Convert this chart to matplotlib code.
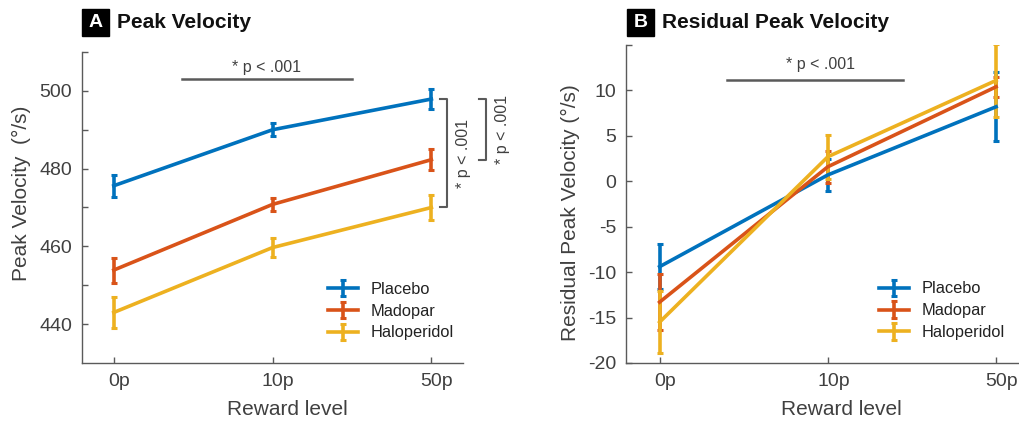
import matplotlib.pyplot as plt
from matplotlib.patches import Rectangle
from matplotlib.transforms import ScaledTranslation

plt.rcParams['font.family'] = ['Liberation Sans', 'DejaVu Sans']

# reward levels on the x axis
levels = ['0p', '10p', '50p']
drugs = ['Placebo', 'Madopar', 'Haloperidol']
colors = ['#0072BD', '#D95319', '#EDB120']

# peak velocity (deg/s), mean and s.e.m.
pv_mean = {'Placebo': [475.6, 490.0, 497.9],
           'Madopar': [453.9, 470.8, 482.3],
           'Haloperidol': [443.0, 459.7, 470.0]}
pv_err = {'Placebo': [2.8, 1.7, 2.5],
          'Madopar': [3.2, 1.7, 2.7],
          'Haloperidol': [4.0, 2.5, 3.3]}

# residual peak velocity (deg/s)
res_mean = {'Placebo': [-9.4, 0.7, 8.2],
            'Madopar': [-13.3, 1.6, 10.4],
            'Haloperidol': [-15.5, 2.7, 11.1]}
res_err = {'Placebo': [2.5, 1.8, 3.8],
           'Madopar': [3.05, 1.75, 1.1],
           'Haloperidol': [3.45, 2.4, 4.0]}

sig_text = '* p < .001'
gray = '#5a5a5a'
txt = '#404040'

fig = plt.figure(figsize=(10.19, 4.28), dpi=100)
axA = fig.add_axes([0.0805, 0.1519, 0.374, 0.7266])
axB = fig.add_axes([0.6143, 0.1519, 0.3847, 0.743])
x = list(range(len(levels)))


def draw(ax, means, errs):
    for name, c in zip(drugs, colors):
        ax.errorbar(x, means[name], yerr=errs[name], color=c, lw=2.6,
                    elinewidth=2.6, capsize=2.3, capthick=2.2, label=name)
    for s in ['top', 'right']:
        ax.spines[s].set_visible(False)
    for s in ['left', 'bottom']:
        ax.spines[s].set_color(gray)
        ax.spines[s].set_linewidth(1.0)
    ax.tick_params(direction='in', length=4, width=1, color=gray,
                   labelcolor=txt, labelsize=14, pad=7)
    ax.set_xticks(x)
    ax.set_xticklabels(levels)
    shift = ScaledTranslation(4 / 72, 0, fig.dpi_scale_trans)
    for lab in ax.get_xticklabels():
        lab.set_transform(lab.get_transform() + shift)
    ax.set_xlabel('Reward level', fontsize=15, color=txt)
    leg = ax.legend(loc='center left', frameon=False, fontsize=11.8,
                    handlelength=1.8, handletextpad=0.8, labelspacing=0.42,
                    borderpad=0, borderaxespad=0)
    for t in leg.get_texts():
        t.set_color('#222222')
    return leg


# panel A
legA = draw(axA, pv_mean, pv_err)
axA.set_xlim(-0.2, 2.2)
axA.set_ylim(430, 510)
axA.set_yticks([440, 450, 460, 470, 480, 490, 500, 510])
axA.set_yticklabels(['440', '', '460', '', '480', '', '500', ''])
axA.set_ylabel('Peak Velocity  (°/s)', fontsize=15, color=txt)
axA.yaxis.set_label_coords(-0.135, 0.545)
axA.xaxis.set_label_coords(0.538, -0.12)
legA.set_bbox_to_anchor((0.646, 0.167), transform=axA.transAxes)

axA.plot([0.43, 1.5], [503.1, 503.1], color=gray, lw=1.8, clip_on=False)
axA.text(0.96, 506.0, sig_text, ha='center', va='center', fontsize=11.5, color=txt)

# brackets at 50p: placebo vs haloperidol, placebo vs madopar
top = pv_mean['Placebo'][2]
for other, xb, xt in [('Haloperidol', 2.10, 2.2), ('Madopar', 2.345, 2.445)]:
    low = pv_mean[other][2]
    axA.plot([xb - 0.045, xb, xb, xb - 0.045], [top, top, low, low],
             color=gray, lw=1.5, clip_on=False)
    axA.text(xt, (top + low) / 2, sig_text, rotation=90, ha='center',
             va='center', fontsize=11.5, color=txt, clip_on=False)

# panel B
legB = draw(axB, res_mean, res_err)
axB.set_xlim(-0.2, 2.13)
axB.set_ylim(-20, 15)
axB.set_yticks([-20, -15, -10, -5, 0, 5, 10, 15])
axB.set_yticklabels(['-20', '-15', '-10', '-5', '0', '5', '10', ''])
axB.set_ylabel('Residual Peak Velocity (°/s)', fontsize=15, color=txt)
axB.yaxis.set_label_coords(-0.117, 0.473)
axB.xaxis.set_label_coords(0.55, -0.117)
legB.set_bbox_to_anchor((0.646, 0.164), transform=axB.transAxes)

axB.plot([0.40, 1.446], [11.2, 11.2], color=gray, lw=1.8, clip_on=False)
axB.text(0.955, 12.8, sig_text, ha='center', va='center', fontsize=11.5, color=txt)

# panel letters and titles
for lx, letter, title in [(82, 'A', 'Peak Velocity'), (627, 'B', 'Residual Peak Velocity')]:
    fig.patches.append(Rectangle((lx / 1019, 1 - 36 / 428), 27 / 1019, 27 / 428,
                                 transform=fig.transFigure, color='black'))
    fig.text((lx + 13.5) / 1019, 1 - 22.5 / 428, letter, color='white',
             fontsize=14, fontweight='bold', ha='center', va='center')
    fig.text((lx + 35) / 1019, 1 - 22.5 / 428, title, color='#111111',
             fontsize=15, fontweight='bold', ha='left', va='center')

fig.savefig('out.png', dpi=100)
